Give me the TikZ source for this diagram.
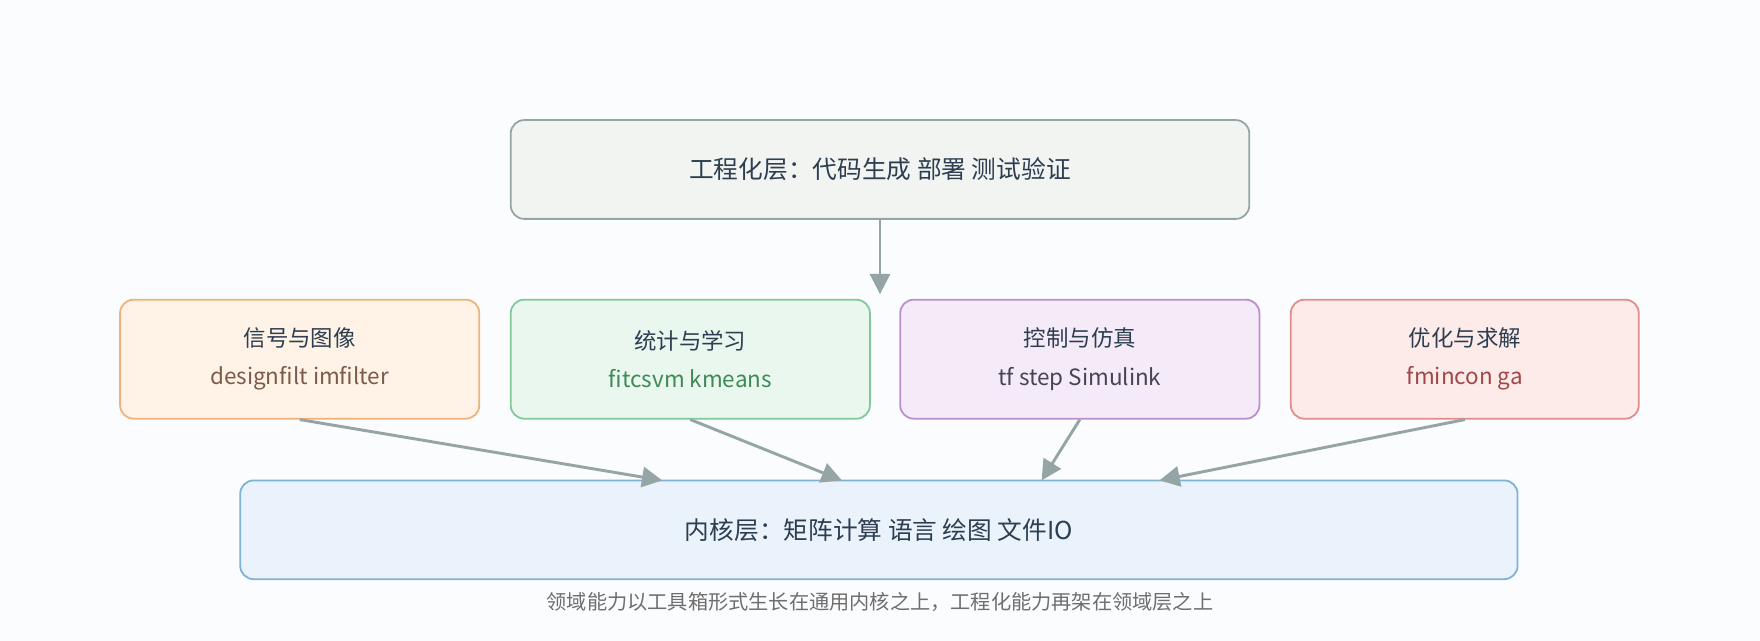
\documentclass[tikz,border=0pt]{standalone}
\usepackage{fontspec}
\setmainfont{Noto Sans CJK SC}
\usetikzlibrary{arrows.meta}
\definecolor{ink}{HTML}{2C3E50}
\definecolor{arr}{HTML}{95A5A6}
\definecolor{bg}{HTML}{FBFCFE}
\begin{document}
\begin{tikzpicture}[x=0.5pt,y=-0.5pt,
 box/.style={draw, line width=0.8pt, rounded corners=6pt, inner sep=0pt, text=ink, align=center},
 con/.style={draw=arr, line width=1.3pt, -{Triangle[length=9pt,width=9pt]}}]
\fill[bg] (0,0) rectangle (1568,571);
\useasboundingbox (0,0) rectangle (1568,571);
\node[box, draw=arr, fill={rgb,255:red,242;green,244;blue,242}, minimum width=329pt, minimum height=44pt, font=\fontsize{11}{13}\selectfont] (top) at (784,151) {工程化层：代码生成 部署 测试验证};
\node[box, draw={rgb,255:red,240;green,178;blue,122}, fill={rgb,255:red,254;green,243;blue,230}, minimum width=160pt, minimum height=53pt, font=\fontsize{10}{12}\selectfont] (a) at (267,320) {信号与图像\\[5pt]{\color[HTML]{7D5A4A}designfilt imfilter}};
\node[box, draw={rgb,255:red,130;green,201;blue,154}, fill={rgb,255:red,234;green,247;blue,238}, minimum width=160pt, minimum height=53pt, font=\fontsize{10}{12}\selectfont] (b) at (615,320) {统计与学习\\[5pt]{\color[HTML]{3E8A55}fitcsvm kmeans}};
\node[box, draw={rgb,255:red,187;green,143;blue,206}, fill={rgb,255:red,245;green,234;blue,247}, minimum width=160pt, minimum height=53pt, font=\fontsize{10}{12}\selectfont] (c) at (962,320) {控制与仿真\\[5pt]{\color[HTML]{4A4255}tf step Simulink}};
\node[box, draw={rgb,255:red,224;green,142;blue,139}, fill={rgb,255:red,253;green,235;blue,234}, minimum width=155pt, minimum height=53pt, font=\fontsize{10}{12}\selectfont] (d) at (1305,320) {优化与求解\\[5pt]{\color[HTML]{A04848}fmincon ga}};
\node[box, draw={rgb,255:red,127;green,179;blue,213}, fill={rgb,255:red,234;green,242;blue,251}, minimum width=569pt, minimum height=44pt, font=\fontsize{11}{13}\selectfont] (k) at (783,472) {内核层：矩阵计算 语言 绘图 文件IO};
\node[text={rgb,255:red,110;green,110;blue,110}, font=\fontsize{9}{11}\selectfont] (cap) at (784,536) {领域能力以工具箱形式生长在通用内核之上，工程化能力再架在领域层之上};
\coordinate (t1) at (784,262);
\coordinate (ka) at (590,428);
\coordinate (kb) at (750,428);
\coordinate (kc) at (928,428);
\coordinate (kd) at (1033,428);
\draw[con] (top.south) -- (t1);
\draw[con] (a.south) -- (ka);
\draw[con] (b.south) -- (kb);
\draw[con] (c.south) -- (kc);
\draw[con] (d.south) -- (kd);
\end{tikzpicture}
\end{document}
